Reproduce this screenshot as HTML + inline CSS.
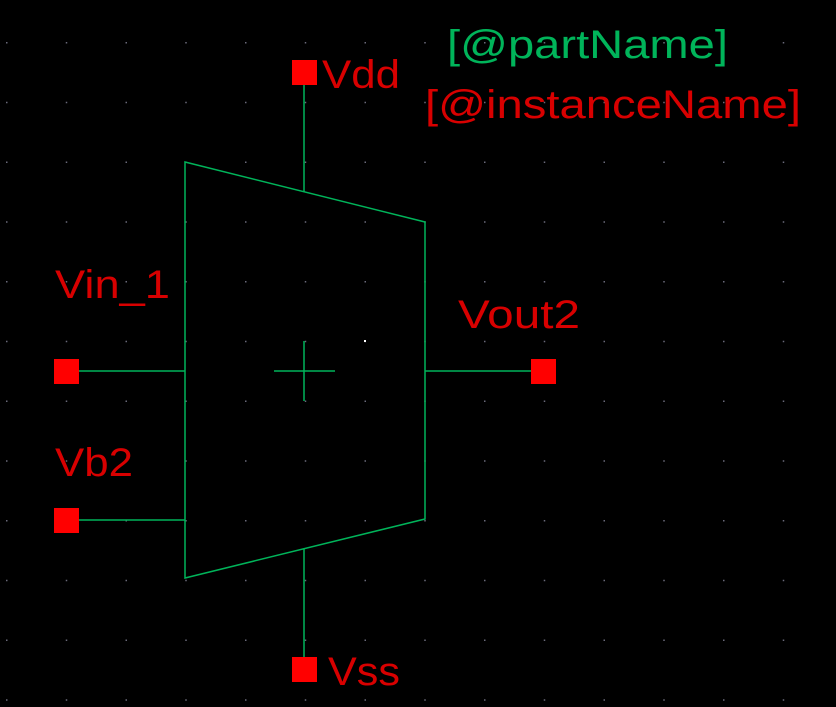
<!DOCTYPE html>
<html><head><meta charset="utf-8"><style>html,body{margin:0;padding:0;background:#000;}svg{display:block}</style></head>
<body>
<svg width="836" height="707" viewBox="0 0 836 707" xmlns="http://www.w3.org/2000/svg">
<rect width="836" height="707" fill="#000"/>
<g id="grid" fill="#6a6a7a"></g>
<g stroke="#00b45a" stroke-width="1.5" fill="none">
<polygon points="185,162 425,222 425,519 185,578"/>
<line x1="304" y1="85" x2="304" y2="192"/>
<line x1="304" y1="549" x2="304" y2="657"/>
<line x1="79" y1="371" x2="185" y2="371"/>
<line x1="79" y1="520" x2="185" y2="520"/>
<line x1="425" y1="371" x2="531" y2="371"/>
<line x1="274" y1="371" x2="335" y2="371"/>
<line x1="304" y1="341" x2="304" y2="401"/>
</g>
<rect x="364" y="340" width="2" height="2" fill="#fff"/>
<g fill="#ff0000">
<rect x="292" y="60" width="25" height="25"/>
<rect x="292" y="657" width="25" height="25"/>
<rect x="54" y="359" width="25" height="25"/>
<rect x="54" y="508" width="25" height="25"/>
<rect x="531" y="359" width="25" height="25"/>
</g>
<g font-family="Liberation Sans, sans-serif" font-size="40" fill="#d80000" lengthAdjust="spacingAndGlyphs">
<text x="447" y="58" fill="#00b45a" textLength="281" lengthAdjust="spacingAndGlyphs">[@partName]</text>
<text x="425" y="118" textLength="376" lengthAdjust="spacingAndGlyphs">[@instanceName]</text>
<text x="322" y="88" textLength="78" lengthAdjust="spacingAndGlyphs">Vdd</text>
<text x="55" y="298" textLength="115" lengthAdjust="spacingAndGlyphs">Vin_1</text>
<text x="458" y="328" textLength="122" lengthAdjust="spacingAndGlyphs">Vout2</text>
<text x="55" y="476" textLength="78" lengthAdjust="spacingAndGlyphs">Vb2</text>
<text x="328" y="685" textLength="72" lengthAdjust="spacingAndGlyphs">Vss</text>
</g>
<script>
var g=document.getElementById('grid');
for(var i=0;i<14;i++){for(var j=0;j<12;j++){
var x=6+59.75*i,y=42+59.75*j;if(x>836||y>707)continue;
var r=document.createElementNS('http://www.w3.org/2000/svg','rect');


r.setAttribute('x',x);r.setAttribute('y',y);r.setAttribute('width',1.5);r.setAttribute('height',1.5);
g.appendChild(r);}}
</script>
</svg>
</body></html>
